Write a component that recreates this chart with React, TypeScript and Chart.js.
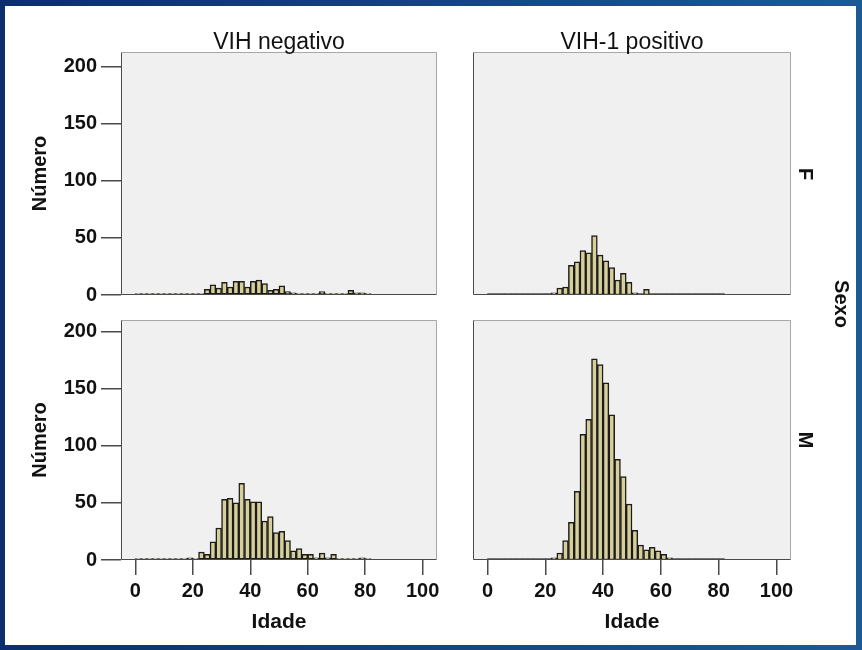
import React, { useEffect, useRef } from 'react';
import { Chart, registerables } from 'chart.js';

Chart.register(...registerables);

// ---------- data ----------
// bin centres (age, 2-year bins 0-2 ... 80-82)
const ageMid = [1, 3, 5, 7, 9, 11, 13, 15, 17, 19, 21, 23, 25, 27, 29, 31, 33, 35, 37, 39, 41, 43, 45, 47, 49, 51, 53, 55, 57, 59, 61, 63, 65, 67, 69, 71, 73, 75, 77, 79, 81];

// Sexo F, VIH negativo
const negF = [0, 0, 0, 0, 0, 0, 0, 0, 0, 1, 0, 0, 5, 9, 6, 11, 7, 12, 12, 7, 12, 13, 10, 4, 5, 8, 3, 2, 1, 0, 0, 0, 3, 1, 1, 1, 0, 4, 2, 2, 0];
// Sexo F, VIH-1 positivo
const posF = [0, 0, 0, 0, 0, 1, 0, 0, 0, 1, 1, 2, 6, 7, 26, 29, 39, 37, 52, 35, 30, 24, 13, 19, 11, 2, 1, 5, 1, 1, 0, 1, 1, 0, 0, 0, 0, 0, 0, 0, 0];
// Sexo M, VIH negativo
const negM = [1, 0, 1, 0, 0, 0, 0, 0, 0, 2, 1, 7, 5, 16, 28, 53, 54, 50, 67, 53, 51, 51, 34, 38, 24, 25, 17, 8, 10, 5, 5, 2, 6, 2, 5, 1, 1, 1, 1, 2, 1];
// Sexo M, VIH-1 positivo
const posM = [0, 0, 0, 0, 0, 0, 0, 0, 0, 0, 0, 2, 6, 17, 33, 60, 110, 123, 176, 171, 155, 127, 88, 73, 49, 26, 13, 9, 11, 8, 5, 2, 1, 1, 0, 1, 0, 1, 0, 0, 1];

const xTicks = [0, 20, 40, 60, 80, 100];
const yTicks = [0, 50, 100, 150, 200];

const colTitles = ['VIH negativo', 'VIH-1 positivo'];
const rowTitles = ['F', 'M'];
const rowVar = 'Sexo';
const xTitle = 'Idade';
const yTitle = 'Número';

// ---------- style ----------
const FONT = "'Liberation Sans', Arial, Helvetica, sans-serif";
const BAR_FILL = '#d6cf9a';
const BAR_EDGE = '#1c1c1c';
const PANEL_BG = '#f0f0f0';
const AXIS = '#4a4a4a';
const TXT = '#111111';

const boxPlugin = {
  id: 'panelBox',
  beforeDraw(chart: any) {
    const { ctx, chartArea: a } = chart;
    ctx.save();
    ctx.fillStyle = PANEL_BG;
    ctx.fillRect(a.left, a.top, a.right - a.left, a.bottom - a.top);
    ctx.restore();
  },
  afterDraw(chart: any) {
    const { ctx, chartArea: a } = chart;
    const l = Math.round(a.left) + 0.5;
    const r = Math.round(a.right) - 0.5;
    const t = Math.round(a.top) + 0.5;
    const b = Math.round(a.bottom) - 0.5;
    ctx.save();
    ctx.lineWidth = 1;
    ctx.strokeStyle = '#a8a8a8';
    ctx.beginPath();
    ctx.moveTo(l, t);
    ctx.lineTo(r, t);
    ctx.lineTo(r, b);
    ctx.stroke();
    ctx.strokeStyle = AXIS;
    ctx.beginPath();
    ctx.moveTo(l, t);
    ctx.lineTo(l, b);
    ctx.lineTo(r, b);
    ctx.stroke();
    ctx.restore();
  },
};

const zeroPad = (s: any) => {
  s.paddingTop = 0;
  s.paddingBottom = 0;
  s.paddingLeft = 0;
  s.paddingRight = 0;
};

type PanelProps = {
  values: number[];
  left: number;
  top: number;
  width: number;
  height: number;
  showX: boolean;
  showY: boolean;
  yMax: number;
  pad: { left: number; right: number; top: number; bottom: number };
};

function Panel({ values, left, top, width, height, showX, showY, yMax, pad }: PanelProps) {
  const ref = useRef<HTMLCanvasElement>(null);
  useEffect(() => {
    if (!ref.current) return;
    const tickFont = { family: FONT, size: 20, weight: 'bold' as const };
    const chart = new Chart(ref.current, {
      type: 'bar',
      data: {
        datasets: [
          {
            data: ageMid.map((x, i) => ({ x, y: values[i] })),
            backgroundColor: BAR_FILL,
            borderColor: BAR_EDGE,
            borderWidth: 1.5,
            borderSkipped: false,
            barPercentage: 1,
            categoryPercentage: 1,
            minBarLength: 1.5,
          } as any,
        ],
      },
      options: {
        responsive: false,
        animation: false,
        events: [],
        layout: { padding: pad },
        plugins: { legend: { display: false }, tooltip: { enabled: false }, title: { display: false } },
        scales: {
          x: {
            type: 'linear',
            min: -5,
            max: 105,
            offset: false,
            display: showX,
            afterBuildTicks: (s: any) => {
              s.ticks = xTicks.map((v) => ({ value: v }));
            },
            afterFit: (s: any) => {
              s.height = showX ? 88 : 0;
              zeroPad(s);
            },
            grid: { display: true, drawOnChartArea: false, drawTicks: true, tickLength: 15, color: AXIS, offset: false, lineWidth: 1.5 },
            border: { display: false },
            ticks: { color: TXT, font: tickFont, padding: 4, maxRotation: 0, autoSkip: false },
            title: { display: true, text: xTitle, color: TXT, font: { family: FONT, size: 21, weight: 'bold' }, padding: { top: 0, bottom: 13 } },
          } as any,
          y: {
            type: 'linear',
            min: 0,
            max: yMax,
            display: showY,
            afterBuildTicks: (s: any) => {
              s.ticks = yTicks.map((v) => ({ value: v }));
            },
            afterFit: (s: any) => {
              s.width = showY ? 121 : 0;
              zeroPad(s);
            },
            grid: { display: true, drawOnChartArea: false, drawTicks: true, tickLength: 20, color: AXIS, lineWidth: 1.5 },
            border: { display: false },
            ticks: { color: TXT, font: tickFont, padding: 4, autoSkip: false },
            title: { display: true, text: yTitle, color: TXT, font: { family: FONT, size: 20, weight: 'bold' }, padding: { top: 28, bottom: 0 } },
          } as any,
        },
      },
      plugins: [boxPlugin],
    });
    return () => chart.destroy();
  }, []);
  return (
    <canvas
      ref={ref}
      width={width}
      height={height}
      style={{ position: 'absolute', left, top, width, height }}
    />
  );
}

function Label({ text, x, y, rotate = 0, size = 20, weight = 'bold' }: { text: string; x: number; y: number; rotate?: number; size?: number; weight?: string }) {
  return (
    <div
      style={{
        position: 'absolute',
        left: x,
        top: y,
        transform: `translate(-50%, -50%) rotate(${rotate}deg)`,
        fontFamily: FONT,
        fontSize: size,
        fontWeight: weight as any,
        color: TXT,
        whiteSpace: 'nowrap',
        lineHeight: 1,
      }}
    >
      {text}
    </div>
  );
}

export default function App() {
  return (
    <div
      style={{
        position: 'absolute',
        left: 0,
        top: 0,
        width: 862,
        height: 650,
        background: 'linear-gradient(to right, #0c2e6c, #1d5a95)',
        overflow: 'hidden',
      }}
    >
      <div style={{ position: 'absolute', left: 5, top: 6, width: 851, height: 639, background: '#ffffff' }} />
      {/* chart areas: TL 121-437 x 52-295, TR 473-791 x 52-295, BL 121-437 x 320-560, BR 473-791 x 320-560 */}
      <Panel values={negF} left={0} top={50} width={452} height={264} showX={false} showY={true} yMax={213} pad={{ left: 0, right: 15, top: 2, bottom: 19 }} />
      <Panel values={posF} left={471} top={50} width={335} height={264} showX={false} showY={false} yMax={213} pad={{ left: 2, right: 15, top: 2, bottom: 19 }} />
      <Panel values={negM} left={0} top={318} width={452} height={330} showX={true} showY={true} yMax={210} pad={{ left: 0, right: 15, top: 2, bottom: 0 }} />
      <Panel values={posM} left={471} top={318} width={335} height={330} showX={true} showY={false} yMax={210} pad={{ left: 2, right: 15, top: 2, bottom: 0 }} />
      <Label text={colTitles[0]} x={279} y={41} size={23} weight="normal" />
      <Label text={colTitles[1]} x={632} y={41} size={23} weight="normal" />
      <Label text={rowTitles[0]} x={806} y={174} rotate={90} />
      <Label text={rowTitles[1]} x={806} y={440} rotate={90} />
      <Label text={rowVar} x={842} y={304} rotate={90} />
    </div>
  );
}
